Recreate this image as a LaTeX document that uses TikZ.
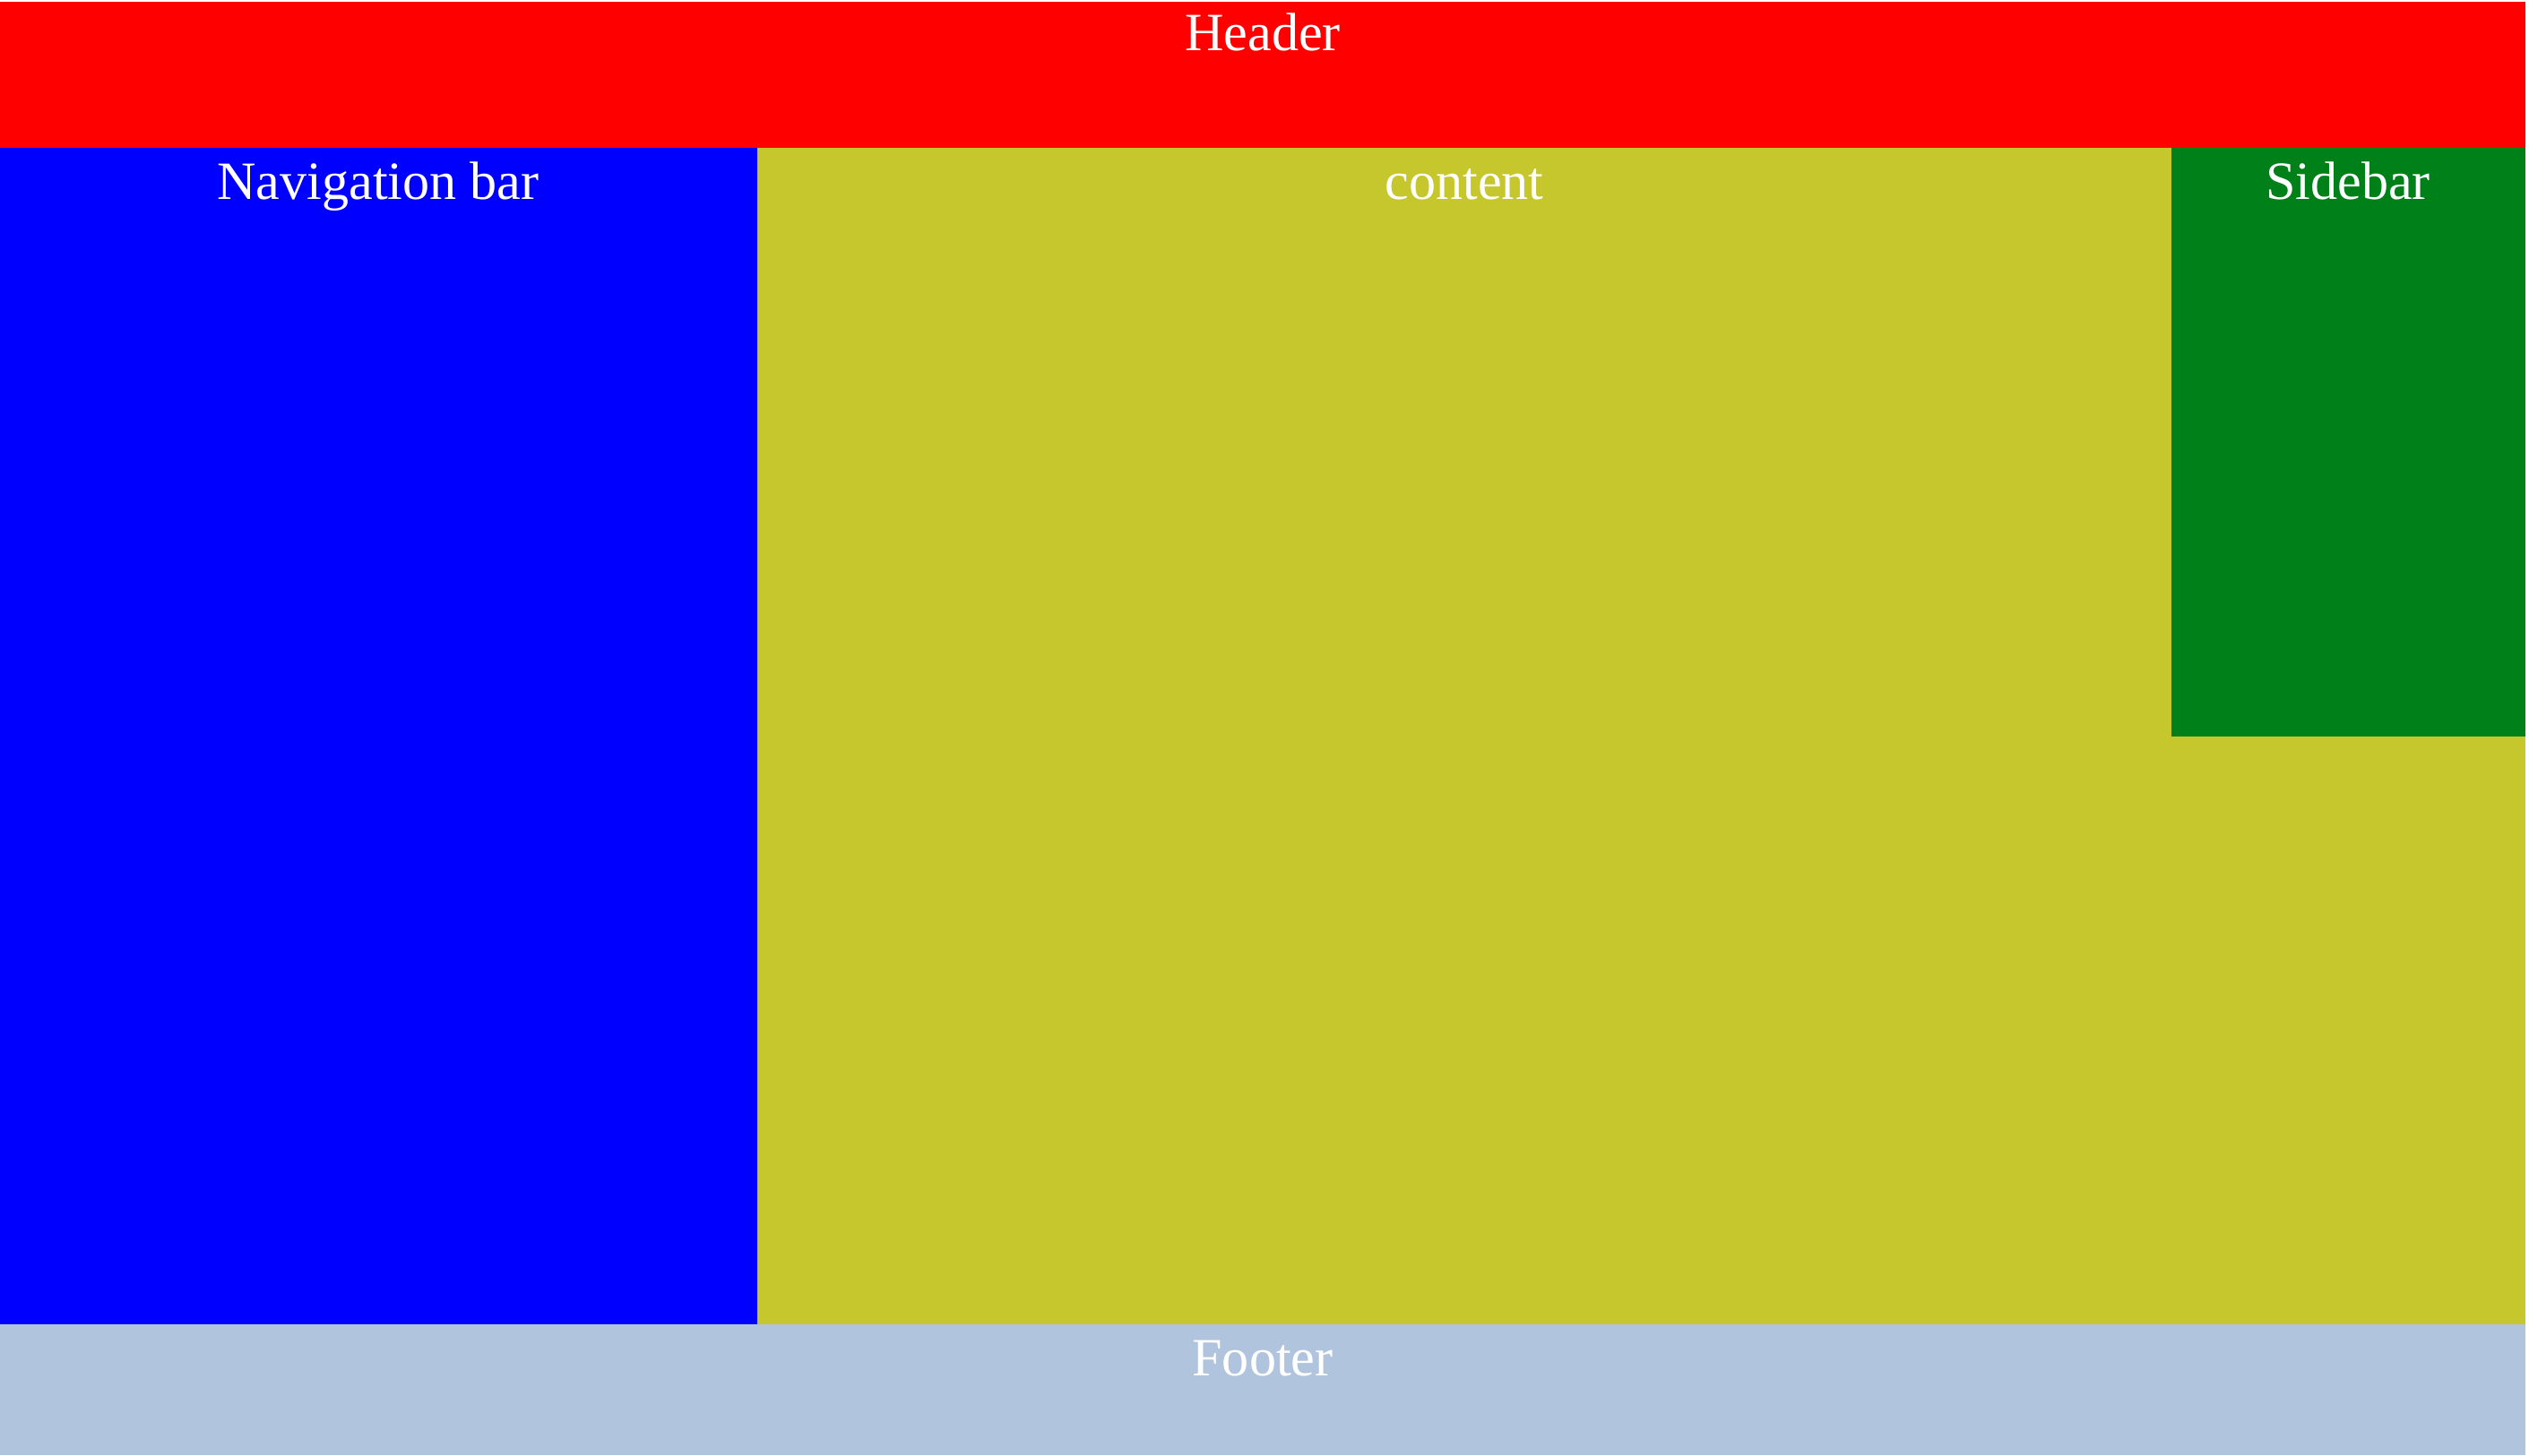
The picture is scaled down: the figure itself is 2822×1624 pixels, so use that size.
\documentclass[tikz,border=0pt]{standalone}
\usepackage{fontspec}
\setmainfont{Liberation Serif}
\usepackage{xcolor}
\definecolor{contentyellow}{RGB}{198,198,45}
\definecolor{sidegreen}{RGB}{0,128,24}
\definecolor{footblue}{RGB}{176,196,222}
\usetikzlibrary{positioning}
\begin{document}
\begin{tikzpicture}[x=0.01cm,y=-0.01cm,
  lbl/.style={anchor=base,text=white,inner sep=0pt,font=\fontsize{17.1}{20}\selectfont}]
\fill[white] (0,0) rectangle (2822,1624);
\fill[red] (0,2) rectangle (2818,165);
\fill[blue] (0,165) rectangle (845,1478);
\fill[contentyellow] (845,165) rectangle (2818,1478);
\fill[sidegreen] (2423,165) rectangle (2818,822);
\fill[footblue] (0,1478) rectangle (2818,1624);
\node[lbl] (header) at (1409,57) {Header};
\node[lbl] (nav) at (422,222) {Navigation bar};
\node[lbl] (content) at (1634,222) {content};
\node[lbl] (sidebar) at (2620,222) {Sidebar};
\node[lbl] (footer) at (1409,1535) {Footer};
\end{tikzpicture}
\end{document}
